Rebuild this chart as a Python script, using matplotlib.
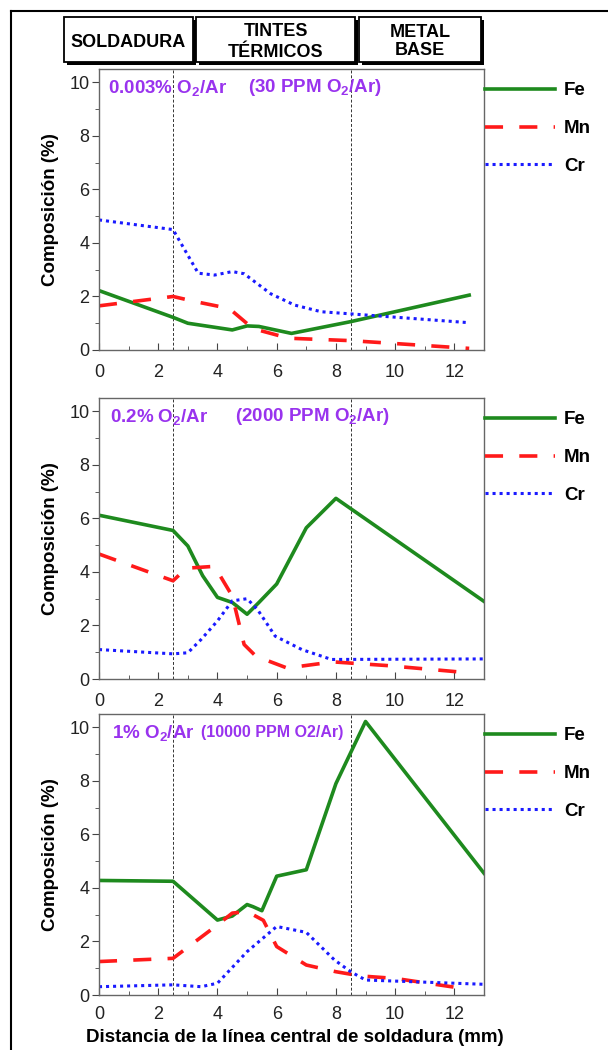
import matplotlib
matplotlib.use("Agg")
import matplotlib.pyplot as plt
from matplotlib.patches import Rectangle
from matplotlib.lines import Line2D

plt.rcParams['font.family'] = ['Liberation Sans', 'DejaVu Sans']
plt.rcParams['mathtext.fontset'] = 'custom'
plt.rcParams['mathtext.rm'] = 'Liberation Sans:bold'
plt.rcParams['mathtext.bf'] = 'Liberation Sans:bold'
plt.rcParams['mathtext.it'] = 'Liberation Sans:bold'

# panel 1 : 0.003% O2/Ar
fe1_x = [0, 2.5, 3.0, 4.5, 5.0, 5.4, 6.5, 8.5, 12.5]
fe1_y = [2.22, 1.22, 1.0, 0.75, 0.9, 0.88, 0.62, 1.06, 2.05]
mn1_x = [0, 2.5, 3.2, 4.4, 5.2, 6.4, 8.5, 12.5]
mn1_y = [1.65, 2.0, 1.82, 1.55, 0.8, 0.44, 0.35, 0.06]
cr1_x = [0, 2.5, 3.35, 3.9, 4.5, 4.9, 5.8, 6.6, 7.5, 8.5, 12.5]
cr1_y = [4.86, 4.5, 2.87, 2.8, 2.93, 2.85, 2.1, 1.68, 1.43, 1.35, 1.02]

# panel 2 : 0.2% O2/Ar
fe2_x = [0, 2.5, 3.0, 3.5, 4.0, 4.5, 5.0, 5.4, 6.0, 7.0, 8.0, 13.0]
fe2_y = [6.12, 5.55, 4.97, 3.86, 3.05, 2.86, 2.42, 2.86, 3.55, 5.65, 6.75, 2.9]
mn2_x = [0, 2.5, 2.95, 3.9, 4.5, 4.9, 5.3, 6.35, 7.9, 9.75, 12.5]
mn2_y = [4.67, 3.67, 4.14, 4.21, 3.1, 1.29, 0.85, 0.41, 0.64, 0.5, 0.23]
cr2_x = [0, 2.5, 3.0, 3.45, 4.0, 4.5, 5.0, 5.35, 5.95, 6.85, 7.85, 13.0]
cr2_y = [1.1, 0.94, 0.98, 1.48, 2.17, 2.92, 3.0, 2.6, 1.6, 1.1, 0.73, 0.75]

# panel 3 : 1% O2/Ar
fe3_x = [0, 2.5, 4.0, 4.5, 5.0, 5.2, 5.5, 6.0, 7.0, 8.0, 9.0, 13.0]
fe3_y = [4.28, 4.25, 2.8, 2.95, 3.38, 3.3, 3.15, 4.44, 4.68, 7.9, 10.22, 4.55]
mn3_x = [0, 2.5, 4.0, 4.5, 5.0, 5.55, 6.0, 7.0, 8.0, 8.85, 10.0, 12.5]
mn3_y = [1.25, 1.37, 2.62, 3.06, 3.12, 2.79, 1.81, 1.12, 0.87, 0.71, 0.62, 0.21]
cr3_x = [0, 2.5, 3.45, 4.0, 5.0, 6.0, 7.0, 7.95, 8.5, 9.0, 13.0]
cr3_y = [0.31, 0.38, 0.31, 0.44, 1.62, 2.56, 2.34, 1.31, 0.87, 0.56, 0.4]

zone_edges = [2.5, 8.5]
zone_names = [['SOLDADURA'], ['TINTES', 'TÉRMICOS'], ['METAL', 'BASE']]
labels_main = [r'0.003% O$_2$/Ar', r'0.2% O$_2$/Ar', r'1% O$_2$/Ar']
labels_ppm = [r'(30 PPM O$_2$/Ar)', r'(2000 PPM O$_2$/Ar)', '(10000 PPM O2/Ar)']

W, H = 608, 1050
fig = plt.figure(figsize=(W / 100, H / 100), dpi=100)

def fx(x):
    return x / W

def fy(y):
    return 1 - y / H

# outer frame
fig.add_artist(Line2D([fx(11), fx(11)], [fy(11), fy(1060)], color='black', lw=1.5))
fig.add_artist(Line2D([fx(11), fx(620)], [fy(11), fy(11)], color='black', lw=1.5))

# header boxes
boxes = [(64, 193), (196, 355), (359, 481)]
baselines = [[47], [36, 57], [37, 55]]
for (x0, x1), names, bls in zip(boxes, zone_names, baselines):
    fig.add_artist(Rectangle((fx(x0 + 3), fy(65)), fx(x1 - x0), 45 / H,
                             facecolor='black', edgecolor='black', lw=0))
    fig.add_artist(Rectangle((fx(x0), fy(62)), fx(x1 - x0), 45 / H,
                             facecolor='white', edgecolor='black', lw=1.3))
    for name, bl in zip(names, bls):
        fig.text(fx((x0 + x1) / 2), fy(bl), name, ha='center', va='baseline',
                 fontsize=13, fontweight='bold')

green = '#1e8a1e'
red = '#ff1a1a'
blue = '#1a1aff'
purple = '#9933ee'

series = [
    (fe1_x, fe1_y, mn1_x, mn1_y, cr1_x, cr1_y),
    (fe2_x, fe2_y, mn2_x, mn2_y, cr2_x, cr2_y),
    (fe3_x, fe3_y, mn3_x, mn3_y, cr3_x, cr3_y),
]
bottoms = [350, 679, 995]
ppm_x = [5.03, 4.6, 3.45]
ppm_size = [13.5, 13.5, 11.5]
main_x = [0.3, 0.37, 0.44]
xpads = [10, 10, 8]

for i, (s, yb) in enumerate(zip(series, bottoms)):
    ax = fig.add_axes([fx(99), fy(yb), 385 / W, 281 / H])
    ax.plot(s[0], s[1], color=green, lw=2.6, label='Fe')
    ax.plot(s[2], s[3], color=red, lw=2.6, ls=(0, (5, 4.5)), label='Mn')
    ax.plot(s[4], s[5], color=blue, lw=2.2, ls=(0, (1, 1.3)), label='Cr')
    for xe in zone_edges:
        ax.axvline(xe, color='#333333', lw=0.7, ls=(0, (3, 2)), zorder=0)
    ax.set_xlim(0, 13)
    ax.set_ylim(0, 10.5)
    ax.set_xticks(range(0, 13, 2))
    ax.set_xticks(range(0, 14), minor=True)
    ax.set_yticks(range(0, 11, 2))
    ax.set_yticks(range(1, 11, 2), minor=True)
    ax.tick_params(axis='x', which='both', direction='in', colors='#444444',
                   labelcolor='#222222', labelsize=13, pad=xpads[i])
    ax.tick_params(axis='x', which='major', length=5)
    ax.tick_params(axis='x', which='minor', length=3)
    ax.tick_params(axis='y', which='both', direction='out', colors='#444444',
                   labelcolor='#222222', labelsize=13, pad=2)
    ax.tick_params(axis='y', which='major', length=5)
    ax.tick_params(axis='y', which='minor', length=3)
    for sp in ax.spines.values():
        sp.set_color('#666666')
        sp.set_linewidth(1.0)
    ax.set_ylabel('Composición (%)', fontsize=13.5, fontweight='bold')
    ax.yaxis.set_label_coords(-0.104, 0.5)
    ax.text(main_x[i], 9.8, labels_main[i], color=purple, fontsize=13.5,
            fontweight='bold', va='center')
    ax.text(ppm_x[i], 9.8, labels_ppm[i], color=purple, fontsize=ppm_size[i],
            fontweight='bold', va='center')
    ax.legend(loc='upper left', bbox_to_anchor=(1.003, 0.953), frameon=False,
              handlelength=3.7, handletextpad=0.5, labelspacing=1.1,
              borderpad=0, borderaxespad=0,
              prop={'weight': 'bold', 'size': 13.5})

fig.text(fx(295), fy(1037), 'Distancia de la línea central de soldadura (mm)',
         ha='center', va='center', fontsize=13.5, fontweight='bold')

fig.savefig('out.png', dpi=100)
